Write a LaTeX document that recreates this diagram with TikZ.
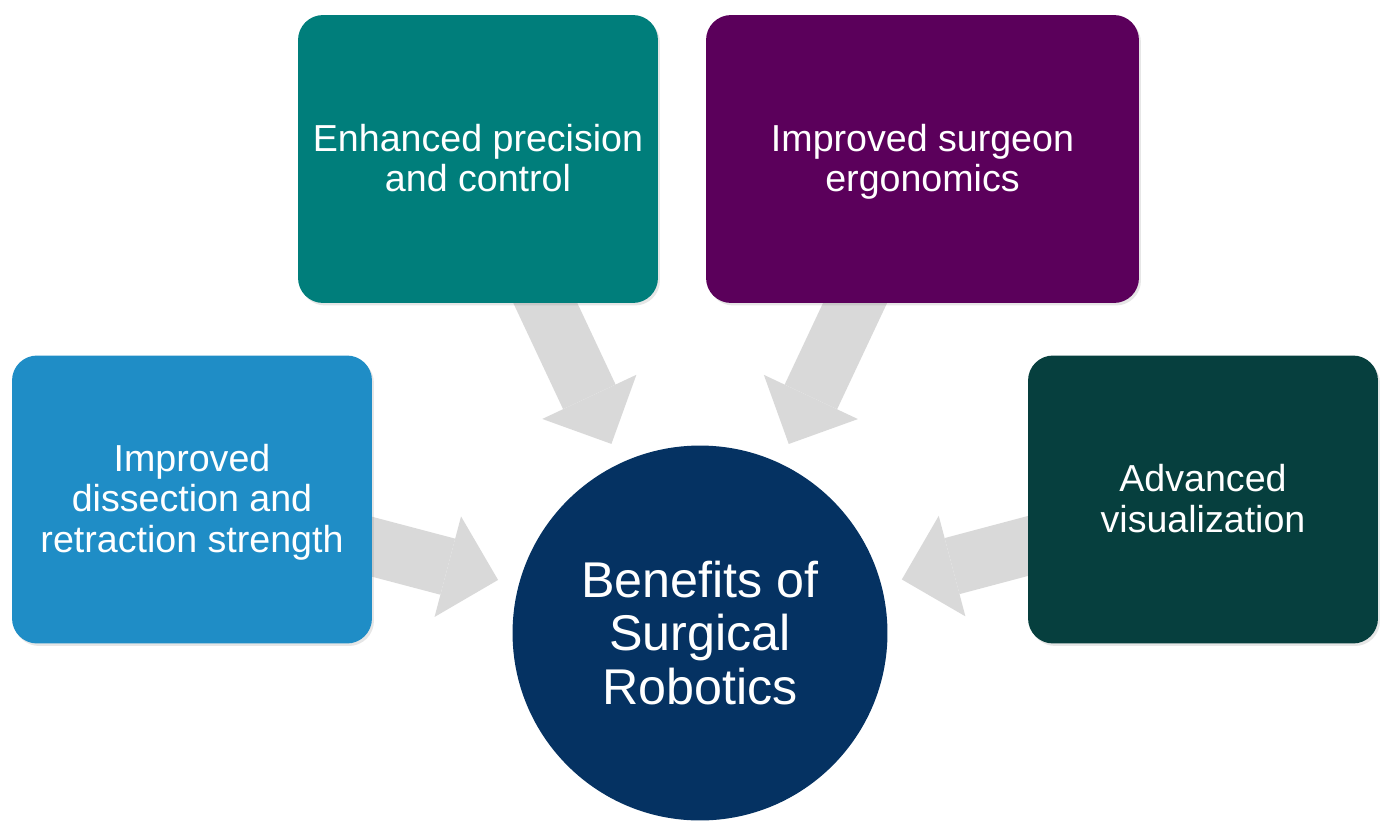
\documentclass[tikz,border=0pt]{standalone}
\usepackage{fontspec}
\setmainfont{Liberation Sans}
\usetikzlibrary{arrows.meta, positioning, shadows, backgrounds}
\definecolor{srblue}{HTML}{1F8DC6}
\definecolor{srteal}{HTML}{007E7B}
\definecolor{srpurple}{HTML}{5B005B}
\definecolor{srgreen}{HTML}{063F3E}
\definecolor{srnavy}{HTML}{053262}
\definecolor{srgray}{HTML}{D9D9D9}
\newcommand{\bstrut}{\rule[-4.5pt]{0pt}{23pt}}

\begin{document}
\begin{tikzpicture}[x=0.02cm, y=-0.02cm,
    benefit/.style={rectangle, rounded corners=0.5cm, minimum width=7.2cm, minimum height=5.76cm,
      inner sep=0pt, text=white, align=center, font=\fontsize{21.4}{23}\selectfont,
      drop shadow={opacity=0.2, shadow xshift=0.04cm, shadow yshift=-0.05cm}},
    hub/.style={circle, fill=srnavy, minimum size=7.5cm, inner sep=0pt, text=white,
      align=center, font=\fontsize{28.6}{30.2}\selectfont},
    feed/.style={srgray, line width=1.16cm, shorten <=-0.6cm, shorten >=0.42cm,
      -{Triangle[width=2.08cm, length=1.04cm, line width=0pt]}}]
                \useasboundingbox (0,0) rectangle (1381,821);
                \clip (0,0) rectangle (1381,821);

                % Benefit boxes
                \node[benefit, fill=srblue] (dissection) at (192,499.5)
                  {Improved\bstrut\\dissection and\bstrut\\retraction strength\bstrut};
                \node[benefit, fill=srteal] (precision) at (478,159)
                  {Enhanced precision\bstrut\\and control\bstrut};
                \node[benefit, fill=srpurple, minimum width=8.66cm] (ergonomics) at (922.5,159)
                  {Improved surgeon\bstrut\\ergonomics\bstrut};
                \node[benefit, fill=srgreen, minimum width=7cm] (visual) at (1203,499.5)
                  {Advanced\bstrut\\visualization\bstrut};

                % Central circle
                \node[hub] (robotics) at (700,633) {Benefits of\\Surgical\\Robotics};

                % Block arrows towards the circle
                \begin{scope}[on background layer]
                  \draw[feed] (dissection) -- (robotics);
                  \draw[feed] (precision) -- (robotics);
                  \draw[feed] (ergonomics) -- (robotics);
                  \draw[feed] (visual) -- (robotics);
                \end{scope}
            \end{tikzpicture}
\end{document}
